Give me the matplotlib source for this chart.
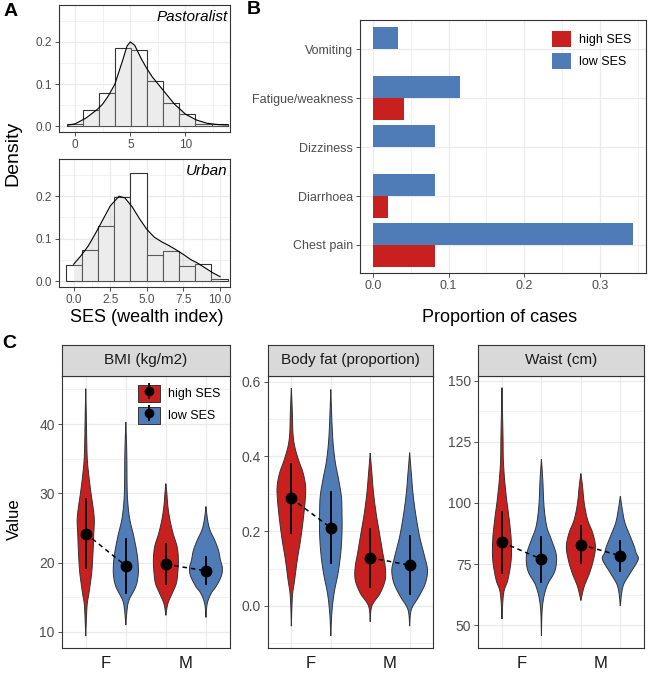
import matplotlib
matplotlib.use('Agg')
import matplotlib.pyplot as plt
import numpy as np
from matplotlib.patches import Patch, Polygon
from matplotlib.lines import Line2D
from matplotlib.legend_handler import HandlerTuple
from matplotlib.ticker import MultipleLocator, FormatStrFormatter

plt.rcParams['font.family'] = ['Liberation Sans', 'DejaVu Sans']

W, H = 651, 673
RED = '#C8201E'
BLUE = '#4F7BB6'
GRID = '#EBEBEB'
EDGE = '#333333'
TXT = '#4D4D4D'

# --- panel A: SES histograms + density
past_edges = [-0.75, 0.73, 2.15, 3.6, 5.06, 6.5, 7.97, 9.45, 10.9, 12.4, 13.85]
past_heights = [0.005, 0.039, 0.080, 0.186, 0.182, 0.107, 0.056, 0.030, 0.005, 0.005]
past_dens_x = [-0.6, 0, 1, 2, 2.5, 3, 3.6, 4.3, 4.7, 5, 5.4, 6, 6.5, 7, 8, 9, 10, 11, 12, 13, 13.8]
past_dens_y = [0.003, 0.006, 0.02, 0.04, 0.053, 0.072, 0.10, 0.156, 0.19, 0.2, 0.192, 0.16,
               0.137, 0.117, 0.085, 0.053, 0.029, 0.015, 0.007, 0.004, 0.003]

urban_edges = [-0.55, 0.55, 1.64, 2.76, 3.86, 4.98, 6.07, 7.19, 8.31, 9.41, 10.52]
urban_heights = [0.038, 0.073, 0.130, 0.197, 0.255, 0.062, 0.072, 0.035, 0.041, 0.005]
urban_dens_x = [0, 0.5, 1, 1.5, 2, 2.5, 3.1, 3.5, 4, 4.5, 5, 5.5, 6, 6.5, 7, 7.5, 8, 8.5, 9, 9.5, 10]
urban_dens_y = [0.04, 0.06, 0.083, 0.113, 0.145, 0.177, 0.2, 0.196, 0.175, 0.147, 0.122, 0.104,
                0.093, 0.084, 0.074, 0.063, 0.051, 0.042, 0.031, 0.02, 0.011]

# --- panel B: symptoms
symptoms = ['Chest pain', 'Diarrhoea', 'Dizziness', 'Fatigue/weakness', 'Vomiting']
prop_high = [0.0815, 0.0203, 0.0, 0.0405, 0.0]
prop_low = [0.3436, 0.0815, 0.0815, 0.1145, 0.0326]

# --- panel C: violins (y, half width) per SES group, order F then M
sexes = ['F', 'M']
bmi_high_F_y = [9.4, 13.7, 15.6, 18.5, 21.3, 24.2, 26.2, 28.1, 30, 32.4, 34.8, 37.7, 40.6, 45.1]
bmi_high_F_w = [0, 0.016, 0.04, 0.074, 0.09, 0.10, 0.107, 0.09, 0.066, 0.04, 0.02, 0.012, 0.008, 0]
bmi_low_F_y = [11.0, 13.2, 14.6, 16.5, 18.0, 19.4, 21.3, 23.75, 26.2, 28.6, 31.0, 35.8, 40.3]
bmi_low_F_w = [0, 0.016, 0.04, 0.123, 0.152, 0.156, 0.14, 0.10, 0.05, 0.025, 0.016, 0.012, 0]
bmi_high_M_y = [12.4, 14.1, 15.6, 17.0, 18.5, 20.4, 22.3, 24.2, 26.2, 28.1, 30, 31.4]
bmi_high_M_w = [0, 0.025, 0.08, 0.13, 0.148, 0.156, 0.14, 0.09, 0.05, 0.025, 0.012, 0]
bmi_low_M_y = [12.1, 14.1, 15.6, 16.5, 18.0, 19.2, 20.4, 21.8, 23.3, 24.7, 26.2, 28.1]
bmi_low_M_w = [0, 0.016, 0.066, 0.123, 0.19, 0.205, 0.18, 0.156, 0.107, 0.05, 0.02, 0]

fat_high_F_y = [-0.054, 0.025, 0.07, 0.123, 0.177, 0.23, 0.284, 0.32, 0.355, 0.39, 0.427, 0.4625, 0.516, 0.583]
fat_high_F_w = [0, 0.013, 0.042, 0.075, 0.117, 0.15, 0.176, 0.18, 0.15, 0.092, 0.042, 0.02, 0.013, 0]
fat_low_F_y = [-0.08, -0.02, 0.034, 0.0875, 0.141, 0.195, 0.248, 0.293, 0.3375, 0.382, 0.427, 0.48, 0.579]
fat_low_F_w = [0, 0.013, 0.042, 0.092, 0.126, 0.142, 0.142, 0.134, 0.10, 0.059, 0.033, 0.017, 0]
fat_high_M_y = [-0.042, 0, 0.034, 0.07, 0.105, 0.141, 0.195, 0.248, 0.302, 0.355, 0.409]
fat_high_M_w = [0, 0.021, 0.126, 0.19, 0.19, 0.16, 0.117, 0.075, 0.042, 0.021, 0]
fat_low_M_y = [-0.054, -0.01, 0.025, 0.061, 0.096, 0.132, 0.186, 0.248, 0.302, 0.355, 0.41]
fat_low_M_w = [0, 0.021, 0.117, 0.2, 0.226, 0.19, 0.126, 0.075, 0.042, 0.021, 0]

waist_high_F_y = [52.5, 63.1, 68.6, 76.8, 85, 93.2, 101.4, 109.6, 117.8, 127.3, 147.1]
waist_high_F_w = [0, 0.021, 0.075, 0.117, 0.117, 0.092, 0.059, 0.033, 0.017, 0.013, 0]
waist_low_F_y = [45.6, 57.7, 65.8, 71.3, 75.4, 79.5, 85, 90.4, 98.6, 109.6, 117.8]
waist_low_F_w = [0, 0.013, 0.067, 0.16, 0.19, 0.184, 0.126, 0.067, 0.033, 0.017, 0]
waist_high_M_y = [60.1, 65.8, 71.3, 76.8, 82.2, 87.7, 93.2, 100, 106.8, 112]
waist_high_M_w = [0, 0.042, 0.11, 0.16, 0.184, 0.15, 0.084, 0.042, 0.021, 0]
waist_low_M_y = [57.9, 65.8, 71.3, 76.8, 79.5, 82.2, 86.3, 91.8, 97.3, 102.7]
waist_low_M_w = [0, 0.033, 0.126, 0.226, 0.2, 0.176, 0.126, 0.059, 0.025, 0]

# mean and sd (F, M)
bmi_mean_high = [24.2, 19.75]
bmi_sd_high = [4.95, 2.9]
bmi_mean_low = [19.55, 18.83]
bmi_sd_low = [3.9, 1.95]
fat_mean_high = [0.288, 0.129]
fat_sd_high = [0.093, 0.077]
fat_mean_low = [0.209, 0.109]
fat_sd_low = [0.095, 0.077]
waist_mean_high = [83.9, 82.9]
waist_sd_high = [12.5, 7.55]
waist_mean_low = [77.0, 78.4]
waist_sd_low = [9.2, 6.1]

fig = plt.figure(figsize=(W / 100, H / 100), dpi=100)


def add_ax(l, t, r, b):
    return fig.add_axes([l / W, 1 - b / H, (r - l) / W, (b - t) / H])


def style(ax, fs):
    for s in ax.spines.values():
        s.set_color(EDGE)
        s.set_linewidth(0.8)
    ax.grid(which='major', color=GRID, lw=0.9)
    ax.grid(which='minor', color=GRID, lw=0.5)
    ax.set_axisbelow(True)
    ax.tick_params(which='major', color=EDGE, length=3, width=0.6, labelcolor=TXT, labelsize=fs, pad=2)
    ax.tick_params(which='minor', length=0)


def hist_panel(ax, edges, heights, dx, dy, xlim, xmaj, fmt, label):
    lefts = edges[:-1]
    widths = [edges[i + 1] - edges[i] for i in range(len(heights))]
    ax.bar(lefts, heights, width=widths, align='edge', color='white', edgecolor=EDGE, lw=0.8, zorder=2)
    ax.fill_between(dx, dy, 0, color='#BEBEBE', alpha=0.28, lw=0, zorder=3)
    ax.plot(dx, dy, color='black', lw=0.8, zorder=4)
    ax.set_xlim(*xlim)
    ax.set_ylim(-0.0135, 0.2875)
    ax.xaxis.set_major_locator(MultipleLocator(xmaj))
    ax.xaxis.set_minor_locator(MultipleLocator(xmaj / 2))
    ax.xaxis.set_major_formatter(FormatStrFormatter(fmt))
    ax.yaxis.set_major_locator(MultipleLocator(0.1))
    ax.yaxis.set_minor_locator(MultipleLocator(0.05))
    ax.yaxis.set_major_formatter(FormatStrFormatter('%.1f'))
    style(ax, 8.5)
    ax.text(0.985, 0.96, label, transform=ax.transAxes, ha='right', va='top',
            fontsize=11, style='italic', color='black')


axA1 = add_ax(59, 5, 230, 132)
hist_panel(axA1, past_edges, past_heights, past_dens_x, past_dens_y, (-1.48, 14.06), 5, '%d', 'Pastoralist')
axA2 = add_ax(59, 159, 230, 287)
hist_panel(axA2, urban_edges, urban_heights, urban_dens_x, urban_dens_y, (-1.0, 10.68), 2.5, '%.1f', 'Urban')
fig.text(13 / W, 1 - 153 / H, 'Density', rotation=90, fontsize=14, ha='center', va='center')
fig.text(147 / W, 1 - 318 / H, 'SES (wealth index)', fontsize=13, ha='center', va='center')

# --- panel B
axB = add_ax(360, 20, 645.7, 273.3)
ypos = list(range(1, len(symptoms) + 1))
axB.barh([y + 0.225 for y in ypos], prop_low, height=0.45, color=BLUE, zorder=2)
axB.barh([y - 0.225 for y in ypos], prop_high, height=0.45, color=RED, zorder=2)
axB.set_yticks(ypos)
axB.set_yticklabels(symptoms)
axB.set_ylim(0.42, 5.6)
axB.set_xlim(-0.0172, 0.3608)
axB.xaxis.set_major_locator(MultipleLocator(0.1))
axB.xaxis.set_minor_locator(MultipleLocator(0.05))
axB.xaxis.set_major_formatter(FormatStrFormatter('%.1f'))
style(axB, 9)
axB.legend([Patch(fc=RED), Patch(fc=BLUE)], ['high SES', 'low SES'], loc='upper left',
           bbox_to_anchor=(0.665, 0.965), frameon=False, fontsize=9, handlelength=1.5,
           handleheight=1.5, labelspacing=0.55, handletextpad=0.6, borderpad=0.2, borderaxespad=0)
fig.text(500 / W, 1 - 318 / H, 'Proportion of cases', fontsize=13, ha='center', va='center')

# --- panel C
dodge = 0.25


def smooth_outline(ys, ws, n=8):
    # Catmull-Rom through the outline points, only to draw a rounder shape
    ys = np.asarray(ys, float)
    ws = np.asarray(ws, float)
    py = np.concatenate([[ys[0]], ys, [ys[-1]]])
    pw = np.concatenate([[ws[0]], ws, [ws[-1]]])
    out_y, out_w = [], []
    t = np.linspace(0, 1, n, endpoint=False)
    for i in range(1, len(py) - 2):
        for p, out in ((py, out_y), (pw, out_w)):
            p0, p1, p2, p3 = p[i - 1], p[i], p[i + 1], p[i + 2]
            out.extend(0.5 * (2 * p1 + (-p0 + p2) * t + (2 * p0 - 5 * p1 + 4 * p2 - p3) * t ** 2
                              + (-p0 + 3 * p1 - 3 * p2 + p3) * t ** 3))
    out_y.append(ys[-1])
    out_w.append(ws[-1])
    return np.array(out_y), np.clip(np.array(out_w), 0, None)


def violin(ax, c, ys, ws, color):
    sy, sw = smooth_outline(ys, ws)
    pts = list(zip(c - sw, sy)) + list(zip((c + sw)[::-1], sy[::-1]))
    ax.add_patch(Polygon(pts, closed=True, fc=color, ec=EDGE, lw=0.7, zorder=2))


def violin_panel(l, r, title, profiles, mh, sh, ml, sl, ylim, ymaj, fmt):
    ax = add_ax(l, 375.7, r, 647.7)
    strip = add_ax(l, 345, r, 375.7)
    strip.set_facecolor('#D9D9D9')
    strip.set_xticks([])
    strip.set_yticks([])
    for s in strip.spines.values():
        s.set_color(EDGE)
        s.set_linewidth(0.8)
    strip.text(0.5, 0.5, title, ha='center', va='center', fontsize=11, color='#1A1A1A',
               transform=strip.transAxes)
    for i in range(2):
        hy, hw, lyv, lw_ = profiles[i]
        violin(ax, i + 1 - dodge, hy, hw, RED)
        violin(ax, i + 1 + dodge, lyv, lw_, BLUE)
    for i in range(2):
        xh, xl = i + 1 - dodge, i + 1 + dodge
        ax.plot([xh, xh], [mh[i] - sh[i], mh[i] + sh[i]], color='black', lw=1.3, zorder=3)
        ax.plot([xl, xl], [ml[i] - sl[i], ml[i] + sl[i]], color='black', lw=1.3, zorder=3)
        ax.plot([xh, xl], [mh[i], ml[i]], color='black', lw=1.1, dashes=(3, 2.5), zorder=3)
        ax.plot([xh, xl], [mh[i], ml[i]], 'o', color='black', ms=7.5, zorder=4)
    ax.set_xlim(0.45, 2.55)
    ax.set_ylim(*ylim)
    ax.set_xticks([1, 2])
    ax.set_xticklabels(sexes)
    ax.set_xticks([1 - dodge, 1 + dodge, 2 - dodge, 2 + dodge], minor=True)
    ax.yaxis.set_major_locator(MultipleLocator(ymaj))
    ax.yaxis.set_minor_locator(MultipleLocator(ymaj / 2))
    ax.yaxis.set_major_formatter(FormatStrFormatter(fmt))
    style(ax, 10)
    ax.xaxis.grid(False, which='major')
    ax.xaxis.grid(True, which='minor', color=GRID, lw=0.9)
    ax.tick_params(axis='x', which='major', length=0, labelsize=12, labelcolor='#1A1A1A', pad=6)
    return ax


axC1 = violin_panel(61.7, 230, 'BMI (kg/m2)',
                    [(bmi_high_F_y, bmi_high_F_w, bmi_low_F_y, bmi_low_F_w),
                     (bmi_high_M_y, bmi_high_M_w, bmi_low_M_y, bmi_low_M_w)],
                    bmi_mean_high, bmi_sd_high, bmi_mean_low, bmi_sd_low, (7.73, 46.97), 10, '%d')
violin_panel(267.7, 433.3, 'Body fat (proportion)',
             [(fat_high_F_y, fat_high_F_w, fat_low_F_y, fat_low_F_w),
              (fat_high_M_y, fat_high_M_w, fat_low_M_y, fat_low_M_w)],
             fat_mean_high, fat_sd_high, fat_mean_low, fat_sd_low, (-0.1117, 0.616), 0.2, '%.1f')
violin_panel(478.3, 644, 'Waist (cm)',
             [(waist_high_F_y, waist_high_F_w, waist_low_F_y, waist_low_F_w),
              (waist_high_M_y, waist_high_M_w, waist_low_M_y, waist_low_M_w)],
             waist_mean_high, waist_sd_high, waist_mean_low, waist_sd_low, (40.8, 152), 25, '%d')


def key(color):
    return (Patch(fc=color, ec=EDGE, lw=0.7),
            Line2D([], [], color='black', marker='|', ms=12, mew=1.3, lw=0),
            Line2D([], [], color='black', marker='o', ms=6, lw=0))


axC1.legend([key(RED), key(BLUE)], ['high SES', 'low SES'],
            handler_map={tuple: HandlerTuple(ndivide=1, pad=0)},
            loc='upper left', bbox_to_anchor=(0.44, 0.975), frameon=False, fontsize=9,
            handlelength=1.7, handleheight=1.7, labelspacing=0.4, handletextpad=0.7,
            borderpad=0.2, borderaxespad=0)
fig.text(14 / W, 1 - 519 / H, 'Value', rotation=90, fontsize=12, ha='center', va='center')

fig.text(11 / W, 1 - 12 / H, 'A', fontsize=14, fontweight='bold', ha='center', va='center')
fig.text(254 / W, 1 - 10 / H, 'B', fontsize=14, fontweight='bold', ha='center', va='center')
fig.text(9 / W, 1 - 343 / H, 'C', fontsize=14, fontweight='bold', ha='center', va='center')

fig.savefig('out.png', dpi=100)
